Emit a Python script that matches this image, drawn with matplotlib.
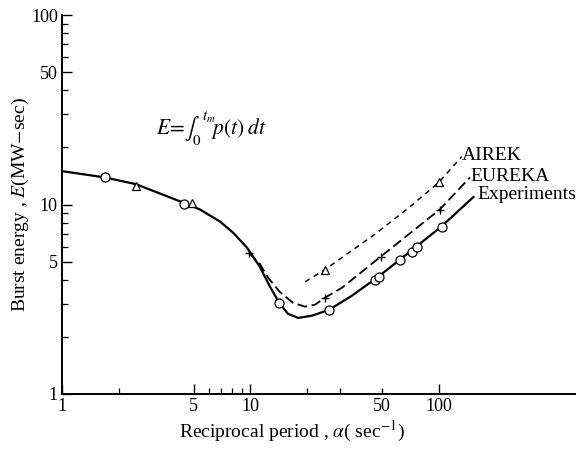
import matplotlib
matplotlib.use("Agg")
import matplotlib.pyplot as plt
from matplotlib.ticker import FixedLocator, FixedFormatter, NullFormatter

plt.rcParams['font.family'] = ['Liberation Serif', 'DejaVu Serif']
plt.rcParams['mathtext.fontset'] = 'stix'

# measured burst energies
exp_alpha = [1.69, 4.44, 14.2, 26.1, 45.8, 48.0, 62.0, 72.0, 76.4, 104.0]
exp_energy = [13.9, 10.1, 3.03, 2.78, 4.01, 4.16, 5.12, 5.64, 5.99, 7.65]

# calculated points
airek_alpha = [2.47, 4.9, 24.8, 100.0]
airek_energy = [12.5, 10.2, 4.5, 13.1]
eureka_alpha = [9.8, 24.8, 49.1, 101.0]
eureka_energy = [5.57, 3.22, 5.31, 9.4]

# faired curves through the points
exp_curve_alpha = [1.0, 1.69, 2.47, 4.44, 5.4, 6.89, 8.08, 9.58, 11.2, 12.7, 14.2,
                   15.8, 17.9, 21.2, 26.1, 34.5, 46.9, 62.1, 103.0, 153.0]
exp_curve_energy = [15.0, 13.9, 12.8, 10.2, 9.41, 8.13, 7.11, 5.92, 4.70, 3.68, 3.03,
                    2.65, 2.52, 2.59, 2.78, 3.30, 4.11, 5.12, 7.65, 11.0]
eureka_curve_alpha = [9.8, 11.2, 12.4, 14.3, 16.8, 19.5, 22.0, 24.8, 30.6, 49.1, 101.0, 146.0]
eureka_curve_energy = [5.57, 4.87, 4.11, 3.46, 3.03, 2.89, 2.96, 3.22, 3.64, 5.31, 9.41, 13.9]
airek_curve_alpha = [19.5, 24.8, 46.0, 69.0, 100.0, 132.0]
airek_curve_energy = [3.91, 4.53, 7.0, 9.6, 13.1, 17.9]

x_major = [1, 5, 10, 50, 100]
x_minor = [2, 6, 7, 8, 9, 20, 30]
y_major = [1, 5, 10, 50, 100]
y_minor = [2, 3, 4, 6, 7, 8, 9, 20, 30, 40, 60, 70, 80, 90]

fig = plt.figure(figsize=(5.78, 4.49), dpi=100)
ax = fig.add_axes([0.1073, 0.1225, 0.8875, 0.844])
ax.set_xscale('log')
ax.set_yscale('log')
ax.set_xlim(1, 527)
ax.set_ylim(1, 100)

ax.plot(exp_curve_alpha, exp_curve_energy, color='black', lw=1.6, solid_capstyle='round')
ax.plot(eureka_curve_alpha, eureka_curve_energy, color='black', lw=1.3, dashes=(5.5, 2.5))
ax.plot(airek_curve_alpha, airek_curve_energy, color='black', lw=1.1, dashes=(3.5, 3))

ax.plot(exp_alpha, exp_energy, 'o', ms=6.5, mfc='white', mec='black', mew=0.9, zorder=5)
ax.plot(airek_alpha, airek_energy, '^', ms=5.5, mfc='white', mec='black', mew=0.9, zorder=5)
ax.plot(eureka_alpha, eureka_energy, '+', ms=6, color='black', mew=1.0, zorder=5)

ax.text(133, 18.2, 'AIREK', fontsize=14, ha='left', va='center')
ax.text(147, 14.0, 'EUREKA', fontsize=14, ha='left', va='center')
ax.text(160, 11.3, 'Experiments', fontsize=14, ha='left', va='center')
ax.text(3.15, 25.0, r'$E\!=\!\int_0^{\,t_m}\!p(t)\;dt$', fontsize=15.5, ha='left', va='center')

for side in ('top', 'right'):
    ax.spines[side].set_visible(False)
ax.spines['left'].set_linewidth(1.4)
ax.spines['bottom'].set_linewidth(1.4)

ax.xaxis.set_major_locator(FixedLocator(x_major))
ax.xaxis.set_major_formatter(FixedFormatter([str(v) for v in x_major]))
ax.xaxis.set_minor_locator(FixedLocator(x_minor))
ax.xaxis.set_minor_formatter(NullFormatter())
ax.yaxis.set_major_locator(FixedLocator(y_major))
ax.yaxis.set_major_formatter(FixedFormatter([str(v) for v in y_major]))
ax.yaxis.set_minor_locator(FixedLocator(y_minor))
ax.yaxis.set_minor_formatter(NullFormatter())

ax.tick_params(which='major', direction='in', length=7, width=1.0, labelsize=13, pad=3)
ax.tick_params(which='minor', direction='in', length=4.5, width=0.9)
# the 50 tick on the alpha axis is a short one
ax.xaxis.get_major_ticks()[3].tick1line.set_markersize(4.5)

ax.set_xlabel(r'Reciprocal period , $\alpha$( sec$^{-1}$)', fontsize=14)
ax.set_ylabel(r'Burst energy , $E$(MW$-$sec)', fontsize=14)
# axis titles sit a little off the axis centres
ax.xaxis.set_label_coords(0.448, -0.065)
ax.yaxis.set_label_coords(-0.06, 0.5)

fig.savefig('out.png', dpi=100)
